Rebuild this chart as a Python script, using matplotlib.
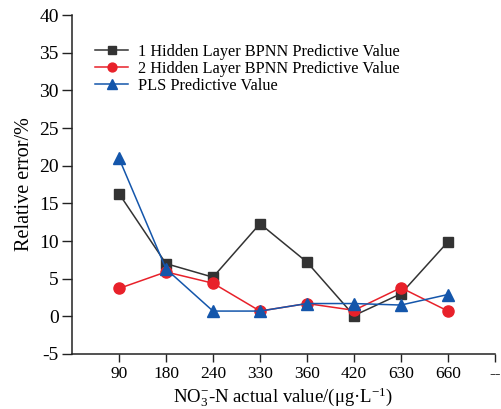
import matplotlib
matplotlib.use("Agg")
import matplotlib.pyplot as plt

categories = ["90", "180", "240", "330", "360", "420", "630", "660", "--"]
bpnn1 = [16.3, 7.0, 5.2, 12.3, 7.2, 0.1, 3.0, 9.9]
bpnn2 = [3.7, 5.9, 4.4, 0.7, 1.7, 0.8, 3.8, 0.7]
pls = [21.0, 6.3, 0.7, 0.7, 1.7, 1.7, 1.5, 2.9]
yticks = [-5, 0, 5, 10, 15, 20, 25, 30, 35, 40]

plt.rcParams['font.family'] = ['Liberation Serif', 'DejaVu Serif']
plt.rcParams['mathtext.fontset'] = 'custom'
plt.rcParams['mathtext.rm'] = 'Liberation Serif'
plt.rcParams['mathtext.it'] = 'Liberation Serif:italic'
plt.rcParams['axes.unicode_minus'] = False

fig = plt.figure(figsize=(5.02, 4.09), dpi=100)
ax = fig.add_axes([0.1434, 0.1345, 0.8426, 0.8285])

x = list(range(1, len(bpnn1) + 1))
ax.plot(x, bpnn1, color='#333333', marker='s', markersize=7, lw=1.1,
        label='1 Hidden Layer BPNN Predictive Value')
ax.plot(x, bpnn2, color='#e8212a', marker='o', markersize=8, lw=1.1,
        label='2 Hidden Layer BPNN Predictive Value')
ax.plot(x, pls, color='#1456ab', marker='^', markersize=8.5, lw=1.1,
        label='PLS Predictive Value')

ax.set_xlim(0, 9)
ax.set_ylim(-5, 40)
ax.set_xticks(range(1, 10))
ax.set_xticklabels(categories)
ax.set_yticks(yticks)
ax.spines['top'].set_visible(False)
ax.spines['right'].set_visible(False)
ax.tick_params(direction='out', width=1, color='#222222')
ax.tick_params(axis='x', labelsize=12.5, length=5.5)
ax.tick_params(axis='y', labelsize=14, length=7, pad=2.5)
for s in ('left', 'bottom'):
    ax.spines[s].set_linewidth(1.1)
    ax.spines[s].set_color('#222222')

ax.set_ylabel('Relative error/%', fontsize=14.5, labelpad=4)
ax.set_xlabel('NO$_3^{-}$-N actual value/(μg·L$^{-1}$)', fontsize=13.5, labelpad=2)

ax.legend(loc='upper left', bbox_to_anchor=(0.055, 0.915), frameon=False,
          fontsize=11.7, handlelength=2.0, handletextpad=0.6, labelspacing=0.05,
          borderaxespad=0, borderpad=0, markerscale=0.8)

fig.savefig('out.png', dpi=100)
